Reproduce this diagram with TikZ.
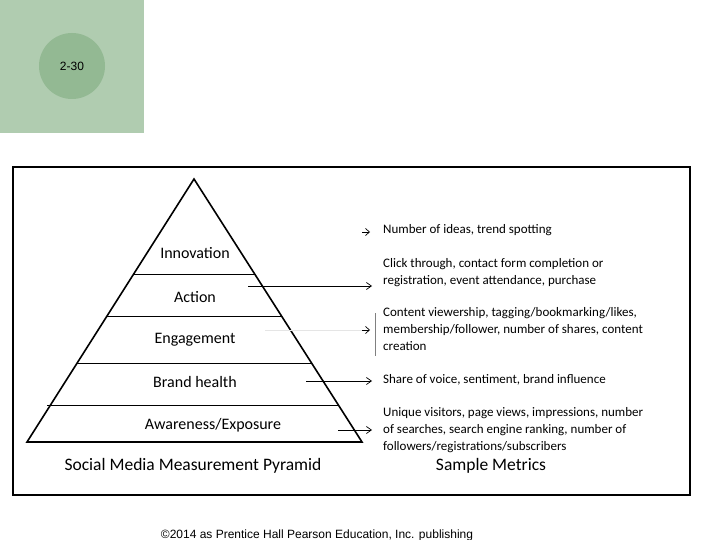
\documentclass[tikz,border=0pt]{standalone}
\usepackage{fontspec}
\usetikzlibrary{arrows.meta}
\setmainfont{Carlito}
\newfontfamily\arialf{Liberation Sans}
\begin{document}
\begin{tikzpicture}[x=1pt,y=-1pt,
  lvl/.style={font=\fontsize{16}{18}\selectfont,inner sep=0pt},
  met/.style={font=\fontsize{13}{17}\selectfont,anchor=north west,align=left,inner sep=0pt},
  arr/.style={-{Straight Barb[length=5pt,width=7pt]},line width=0.7pt},
  sarr/.style={-{Straight Barb[length=4pt,width=7pt]},line width=0.7pt},
  captxt/.style={font=\fontsize{17.5}{20}\selectfont,inner sep=0pt}]
\useasboundingbox (0,0) rectangle (720,540);
\fill[fill={rgb,255:red,176;green,204;blue,176}] (0,0) rectangle (144,133);
\node[circle,fill={rgb,255:red,147;green,185;blue,147},minimum size=66pt,inner sep=0pt,font=\arialf\fontsize{12}{14}\selectfont] (num) at (72,66) {2-30};
\draw[line width=2pt] (13,167) rectangle (690,495);
% pyramid
\coordinate (apex) at (194,179);
\coordinate (bl) at (27,442);
\coordinate (br) at (362,442);
\draw[line width=1.6pt,line join=miter] (apex) -- (bl) -- (br) -- cycle;
\coordinate (l1a) at (133,274); \coordinate (l1b) at (255,274);
\coordinate (l2a) at (106,316); \coordinate (l2b) at (282,316);
\coordinate (l3a) at (76,363); \coordinate (l3b) at (312,363);
\coordinate (l4a) at (47,405); \coordinate (l4b) at (339,405);
\draw[line width=0.8pt] (l1a) -- (l1b) (l2a) -- (l2b) (l3a) -- (l3b) (l4a) -- (l4b);
\node[lvl] (inn) at (195,253) {Innovation};
\node[lvl] (act) at (195,297) {Action};
\node[lvl] (eng) at (195,340) {Engagement};
\node[lvl] (bh) at (195,382) {Brand health};
\node[lvl] (aw) at (213,425) {Awareness/Exposure};
\node[captxt] (t1) at (193,466) {Social Media Measurement Pyramid};
\node[captxt] (t2) at (491,466) {Sample Metrics};
% metrics
\node[met] (m1) at (383,224) {Number of ideas, trend spotting};
\node[met] (m2) at (383,258) {Click through, contact form completion or\\registration, event attendance, purchase};
\node[met] (m3) at (383,307) {Content viewership, tagging/bookmarking/likes,\\membership/follower, number of shares, content\\creation};
\node[met] (m4) at (383,374) {Share of voice, sentiment, brand influence};
\node[met] (m5) at (383,407) {Unique visitors, page views, impressions, number\\of searches, search engine ranking, number of\\followers/registrations/subscribers};
% arrows
\coordinate (a1) at (362,232); \coordinate (a1e) at (370,232);
\draw[sarr] (a1) -- (a1e);
\coordinate (s2) at (248,286); \coordinate (e2) at (372,286);
\draw[arr] (s2) -- (e2);
\coordinate (s3) at (265,330); \coordinate (e3) at (370,330); \coordinate (e3a) at (362,330);
\draw[gray!20,line width=0.5pt] (s3) -- (e3a);
\draw[sarr] (e3a) -- (e3);
\coordinate (v1) at (375,313); \coordinate (v2) at (375,356);
\draw[gray,line width=0.5pt] (v1) -- (v2);
\coordinate (s4) at (306,381); \coordinate (e4) at (372,381);
\draw[arr] (s4) -- (e4);
\coordinate (s5) at (338,430); \coordinate (e5) at (372,430);
\draw[arr] (s5) -- (e5);
\node[font=\arialf\fontsize{12}{14}\selectfont,inner sep=0pt] (foot) at (317,535) {\textcopyright 2014 as Prentice Hall Pearson Education, Inc. publishing};
\end{tikzpicture}
\end{document}
